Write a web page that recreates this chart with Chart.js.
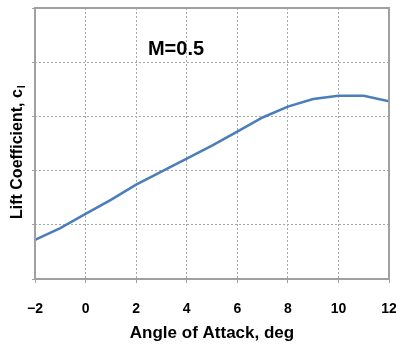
<!DOCTYPE html>
<html>
<head>
<meta charset="utf-8">
<script src="https://cdn.jsdelivr.net/npm/chart.js@4.4.0/dist/chart.umd.min.js"></script>
<style>
    html, body { margin: 0; padding: 0; background: #fff; }
    #wrap { width: 396px; height: 349px; position: relative; }
</style>
</head>
<body>
<div id="wrap"><canvas id="liftChart"></canvas></div>
<script>
// angle of attack (deg) and lift coefficient
const angles = [-2, -1, 0, 1, 2, 3, 4, 5, 6, 7, 8, 9, 10, 11, 12];
const liftCoef = [-0.14, -0.03, 0.10, 0.23, 0.37, 0.49, 0.61, 0.73, 0.86, 0.99, 1.09, 1.16, 1.19, 1.19, 1.14];
const xTicks = [-2, 0, 2, 4, 6, 8, 10, 12];
const machLabel = 'M=0.5';

const fontFamily = '"Liberation Sans", Arial, sans-serif';

// frame round the plot, the M= label and the y title with its subscript
const extrasPlugin = {
    id: 'extras',
    afterDraw(chart) {
        const ctx = chart.ctx;
        const a = chart.chartArea;
        ctx.save();
        ctx.strokeStyle = '#a0a0a0';
        ctx.lineWidth = 2;
        ctx.strokeRect(a.left, a.top, a.right - a.left, a.bottom - a.top);

        ctx.fillStyle = '#000';
        ctx.font = 'bold 20px ' + fontFamily;
        ctx.textAlign = 'center';
        ctx.textBaseline = 'middle';
        ctx.fillText(machLabel, 176, 49);

        ctx.translate(22, 219);
        ctx.rotate(-Math.PI / 2);
        ctx.textAlign = 'left';
        ctx.textBaseline = 'alphabetic';
        ctx.font = 'bold 16px ' + fontFamily;
        const main = 'Lift Coefficient, c';
        ctx.fillText(main, 0, 0);
        const w = ctx.measureText(main).width;
        ctx.font = 'bold 11px ' + fontFamily;
        ctx.fillText('l', w + 1, 3);
        ctx.restore();
    }
};

const ctx = document.getElementById('liftChart').getContext('2d');
const liftChart = new Chart(ctx, {
    type: 'line',
    data: {
        datasets: [{
            data: angles.map((a, i) => ({ x: a, y: liftCoef[i] })),
            borderColor: 'rgb(74, 126, 187)',
            borderWidth: 2.5,
            pointRadius: 0,
            tension: 0,
            fill: false
        }]
    },
    options: {
        responsive: true,
        maintainAspectRatio: false,
        animation: false,
        layout: { padding: { top: 8, right: 7, left: 0, bottom: 0 } },
        plugins: {
            legend: { display: false },
            tooltip: { enabled: false }
        },
        scales: {
            x: {
                type: 'linear',
                min: -2,
                max: 12,
                afterBuildTicks: scale => { scale.ticks = xTicks.map(v => ({ value: v })); },
                afterFit: scale => {
                    scale.height = 70;
                    scale.paddingLeft = 0;
                    scale.paddingRight = 0;
                },
                border: { display: false, dash: [2, 2] },
                grid: {
                    color: '#a8a8a8',
                    lineWidth: 1,
                    tickLength: 4,
                    tickColor: '#a0a0a0'
                },
                ticks: {
                    padding: 18,
                    color: '#000',
                    font: { family: fontFamily, size: 14, weight: 'bold' },
                    callback: v => String(v).replace('-', '\u2212')
                },
                title: {
                    display: true,
                    text: 'Angle of Attack, deg',
                    color: '#000',
                    font: { family: fontFamily, size: 17, weight: 'bold' },
                    padding: { top: 0, bottom: 5 }
                }
            },
            y: {
                min: -0.5,
                max: 2.0,
                afterFit: scale => {
                    scale.width = 35;
                    scale.paddingTop = 0;
                    scale.paddingBottom = 0;
                },
                border: { display: false, dash: [2, 2] },
                grid: {
                    color: '#a8a8a8',
                    lineWidth: 1,
                    tickLength: 3,
                    tickColor: '#a0a0a0'
                },
                ticks: { stepSize: 0.5, display: false }
            }
        }
    },
    plugins: [extrasPlugin]
});
</script>
</body>
</html>
